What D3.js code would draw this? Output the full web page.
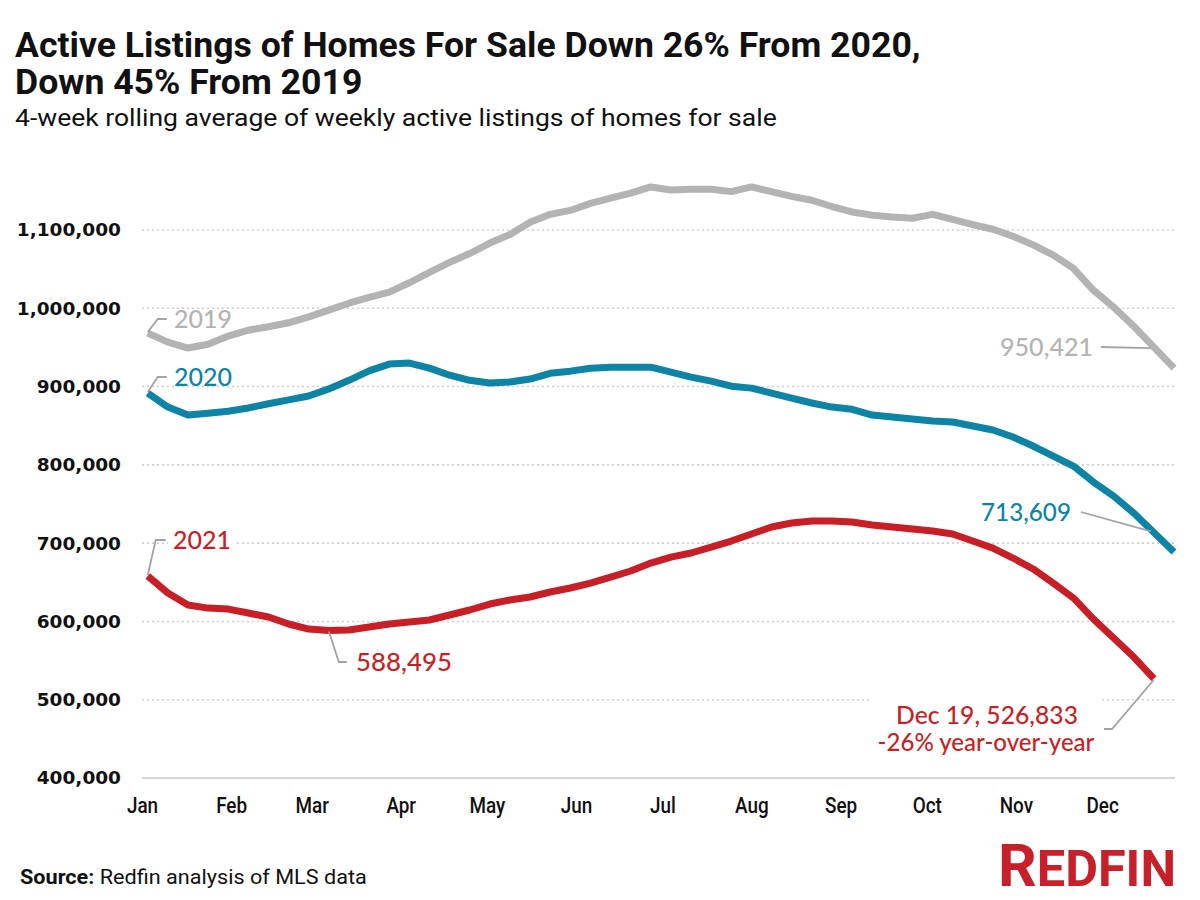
<!DOCTYPE html>
<html>
<head>
<meta charset="utf-8">
<script src="https://cdn.jsdelivr.net/npm/d3@7"></script>
<style>
  body { margin: 0; background: #fff; }
  svg { display: block; }
</style>
</head>
<body>
<svg id="chart" width="1200" height="900"></svg>
<script>
// ---------------- DATA ----------------
const weekDates = [
  "2021-01-03","2021-01-10","2021-01-17","2021-01-24","2021-01-31",
  "2021-02-07","2021-02-14","2021-02-21","2021-02-28",
  "2021-03-07","2021-03-14","2021-03-21","2021-03-28",
  "2021-04-04","2021-04-11","2021-04-18","2021-04-25",
  "2021-05-02","2021-05-09","2021-05-16","2021-05-23","2021-05-30",
  "2021-06-06","2021-06-13","2021-06-20","2021-06-27",
  "2021-07-04","2021-07-11","2021-07-18","2021-07-25",
  "2021-08-01","2021-08-08","2021-08-15","2021-08-22","2021-08-29",
  "2021-09-05","2021-09-12","2021-09-19","2021-09-26",
  "2021-10-03","2021-10-10","2021-10-17","2021-10-24","2021-10-31",
  "2021-11-07","2021-11-14","2021-11-21","2021-11-28",
  "2021-12-05","2021-12-12","2021-12-19","2021-12-26"
];

const listings2019 = [
  968300, 956800, 949200, 954000, 964500, 972000, 976400, 981500, 989000,
  997700, 1006500, 1014000, 1020700, 1032600, 1046000, 1058600, 1070000,
  1083300, 1094300, 1110000, 1120000, 1125000, 1134000, 1140700, 1147000, 1155000,
  1151000, 1152000, 1152000, 1149000, 1155000, 1149000, 1143000, 1138000, 1130000,
  1123000, 1119000, 1116500, 1115000, 1120000, 1113500, 1107000, 1101000, 1092000,
  1081000, 1068000, 1051000, 1023000, 1001500, 977000, 950421, 923600
];

const listings2020 = [
  891700, 873800, 863600, 866000, 868400, 872700, 878000, 883000, 888000,
  897000, 908000, 920000, 928700, 930000, 923500, 914500, 908000,
  904600, 905800, 909600, 917000, 919700, 923500, 924800, 924800, 924800,
  918400, 912000, 907000, 900500, 898000, 891700, 885300, 879000, 873800,
  871000, 863600, 861000, 858500, 856000, 854800, 849700, 844600, 835500,
  824000, 811000, 798500, 778000, 760000, 738400, 713609, 688600
];

const listings2021 = [
  658000, 636300, 621000, 617000, 615800, 610700, 605600, 596700, 590300,
  588495, 589000, 592800, 596700, 599200, 601800, 608200, 614600,
  622200, 627300, 631200, 637600, 642700, 649000, 656700, 664400, 674600,
  682200, 687400, 695000, 702700, 711600, 720600, 725700, 728200, 728200,
  727000, 723100, 720600, 718000, 715500, 711600, 702700, 693700, 681000,
  667000, 649000, 630000, 603000, 578800, 554500, 526833
];

const seriesNames = ["2019", "2020", "2021"];
const yTicks = [400000, 500000, 600000, 700000, 800000, 900000, 1000000, 1100000];
const monthTicks = ["2021-01-01","2021-02-01","2021-03-01","2021-04-01","2021-05-01","2021-06-01",
                    "2021-07-01","2021-08-01","2021-09-01","2021-10-01","2021-11-01","2021-12-01"];
const xDomain = ["2021-01-01", "2021-12-26"];

const titleLines = ["Active Listings of Homes For Sale Down 26% From 2020,", "Down 45% From 2019"];
const subtitle = "4-week rolling average of weekly active listings of homes for sale";

// ---------------- STYLE ----------------
const colors = { "2019": "#b3b3b3", "2020": "#0d83a6", "2021": "#c81f26" };
const narrowBase = "Roboto, 'Liberation Sans', sans-serif";
const labelFont = "Lato, 'Noto Sans', sans-serif";

const svg = d3.select("#chart");
const parse = d3.utcParse("%Y-%m-%d");

const x = d3.scaleUtc().domain(xDomain.map(parse)).range([142, 1174]);
const y = d3.scaleLinear().domain([400000, 1100000]).range([778, 230]);

function fit(sel, w) {
  const fs = parseFloat(sel.attr("font-size"));
  const cur = sel.node().getComputedTextLength();
  if (cur > 0) sel.attr("font-size", fs * w / cur);
  return sel;
}
// horizontally compress text to a target width, keeping its height
function squeeze(sel, w, ax, ay, measureNode) {
  const cur = (measureNode || sel.node()).getComputedTextLength();
  const k = cur > 0 ? w / cur : 1;
  sel.attr("transform", `translate(${ax},${ay}) scale(${k},1) translate(${-ax},${-ay})`);
  return k;
}

// ---------------- TITLES ----------------
const title = svg.append("text").attr("x", 15).attr("y", 57)
  .attr("font-family", narrowBase).attr("font-weight", 700).attr("font-size", 35)
  .attr("fill", "#111");
const tl1 = title.append("tspan").attr("x", 15).attr("y", 57).text(titleLines[0]);
title.append("tspan").attr("x", 15).attr("y", 94).text(titleLines[1]);
squeeze(title, 906, 15, 57, tl1.node());

const st = svg.append("text").attr("x", 15).attr("y", 126)
  .attr("font-family", narrowBase).attr("font-weight", 400).attr("font-size", 24)
  .attr("fill", "#111").text(subtitle);
squeeze(st, 762, 15, 126);

// ---------------- GRID ----------------
const plot = svg.append("g");
plot.selectAll("line.grid").data(yTicks.filter(d => d > 400000)).join("line")
  .attr("class", "grid")
  .attr("x1", 142).attr("x2", 1175)
  .attr("y1", d => y(d)).attr("y2", d => y(d))
  .attr("stroke", "#cfcfcf").attr("stroke-width", 1.6)
  .attr("stroke-dasharray", "2,3");
plot.append("line")
  .attr("x1", 142).attr("x2", 1175)
  .attr("y1", y(400000)).attr("y2", y(400000))
  .attr("stroke", "#d6d6d6").attr("stroke-width", 1.8);

// ---------------- AXES ----------------
const yAxis = d3.axisLeft(y).tickValues(yTicks).tickSize(0).tickPadding(20)
  .tickFormat(d3.format(","));
const gy = svg.append("g").attr("transform", "translate(141,0)").call(yAxis);
gy.select(".domain").remove();
gy.selectAll("text").attr("font-family", "'DejaVu Sans', sans-serif")
  .attr("font-weight", 700).attr("font-size", 18.5).attr("fill", "#111");

const xAxis = d3.axisBottom(x).tickValues(monthTicks.map(parse)).tickSize(0).tickPadding(19)
  .tickFormat(d3.utcFormat("%b"));
const gx = svg.append("g").attr("transform", `translate(0,${y(400000)})`).call(xAxis);
gx.select(".domain").remove();
gx.selectAll("text").attr("font-family", narrowBase)
  .attr("font-weight", 500).attr("font-size", 22).attr("fill", "#111")
  .attr("transform", "scale(0.86,1)");

// ---------------- LINES ----------------
const seriesData = [listings2019, listings2020, listings2021];
const line = d3.line().x((d, i) => x(parse(weekDates[i]))).y(d => y(d));
svg.append("g").selectAll("path").data(seriesData).join("path")
  .attr("d", d => line(d))
  .attr("fill", "none")
  .attr("stroke", (d, i) => colors[seriesNames[i]])
  .attr("stroke-width", 7)
  .attr("stroke-linejoin", "round")
  .attr("stroke-linecap", "butt");

// ---------------- ANNOTATIONS ----------------
const ann = svg.append("g");
const leaderColor = "#a3a3a3";
function pt(arr, i) { return [x(parse(weekDates[i])), y(arr[i])]; }
function leader(points) {
  ann.append("path").attr("d", d3.line()(points))
    .attr("fill", "none").attr("stroke", leaderColor).attr("stroke-width", 1.8);
}
function label(txt, xx, yy, color, size, anchor, w) {
  const t = ann.append("text").attr("x", xx).attr("y", yy)
    .attr("font-family", labelFont).attr("font-weight", 500)
    .attr("font-size", size).attr("fill", color)
    .attr("text-anchor", anchor || "start").text(txt);
  if (w) fit(t, w);
  return t;
}

// 2019
let p = pt(listings2019, 0);
leader([[p[0], p[1] - 1], [p[0] + 10, 319], [p[0] + 19, 319]]);
label(seriesNames[0], 174, 328, colors["2019"], 25);
// 2020
p = pt(listings2020, 0);
leader([[p[0], p[1] - 1], [p[0] + 10, 377], [p[0] + 19, 377]]);
label(seriesNames[1], 174, 386, colors["2020"], 25);
// 2021 (white backing over gridline)
p = pt(listings2021, 0);
ann.append("rect").attr("x", 168).attr("y", 528).attr("width", 68).attr("height", 26).attr("fill", "#fff");
leader([[p[0], p[1] - 1], [p[0] + 8, 540], [p[0] + 18, 540]]);
label(seriesNames[2], 173, 549, colors["2021"], 25);

// 2021 minimum
p = pt(listings2021, 9);
leader([[p[0], p[1] + 1], [p[0] + 10, 662], [p[0] + 18, 662]]);
label(d3.format(",")(listings2021[9]), 356, 671, colors["2021"], 26, "start", 96);

// 2019 end label
p = pt(listings2019, 50);
leader([[1101, 347], [p[0] - 3, p[1] + 1]]);
label(d3.format(",")(listings2019[50]), 1093, 356, colors["2019"], 26, "end", 93);

// 2020 end label
p = pt(listings2020, 50);
leader([[1081, 512], [p[0] - 3, p[1] - 1]]);
label(d3.format(",")(listings2020[50]), 1071, 521, colors["2020"], 26, "end", 90);

// 2021 end label
p = pt(listings2021, 50);
ann.append("rect").attr("x", 872).attr("y", 690).attr("width", 228).attr("height", 70).attr("fill", "#fff");
leader([[p[0], p[1] + 1], [1112, 729], [1104, 729]]);
label("Dec 19, " + d3.format(",")(listings2021[50]), 987, 724, colors["2021"], 25, "middle", 182);
label("-26% year-over-year", 986, 751, colors["2021"], 22, "middle", 217);

// ---------------- FOOTER ----------------
const src = svg.append("text").attr("x", 20).attr("y", 884)
  .attr("font-family", narrowBase).attr("font-size", 21).attr("fill", "#111");
src.append("tspan").attr("font-weight", 700).text("Source:");
src.append("tspan").attr("font-weight", 400).text(" Redfin analysis of MLS data");
squeeze(src, 347, 20, 884);

const logo = svg.append("text").attr("x", 998).attr("y", 886)
  .attr("font-family", narrowBase).attr("font-weight", 700).attr("font-size", 50)
  .attr("fill", "#c8202a");
logo.append("tspan").attr("font-size", 60).text("R");
logo.append("tspan").text("EDFIN");
squeeze(logo, 178, 998, 886);
</script>
</body>
</html>
